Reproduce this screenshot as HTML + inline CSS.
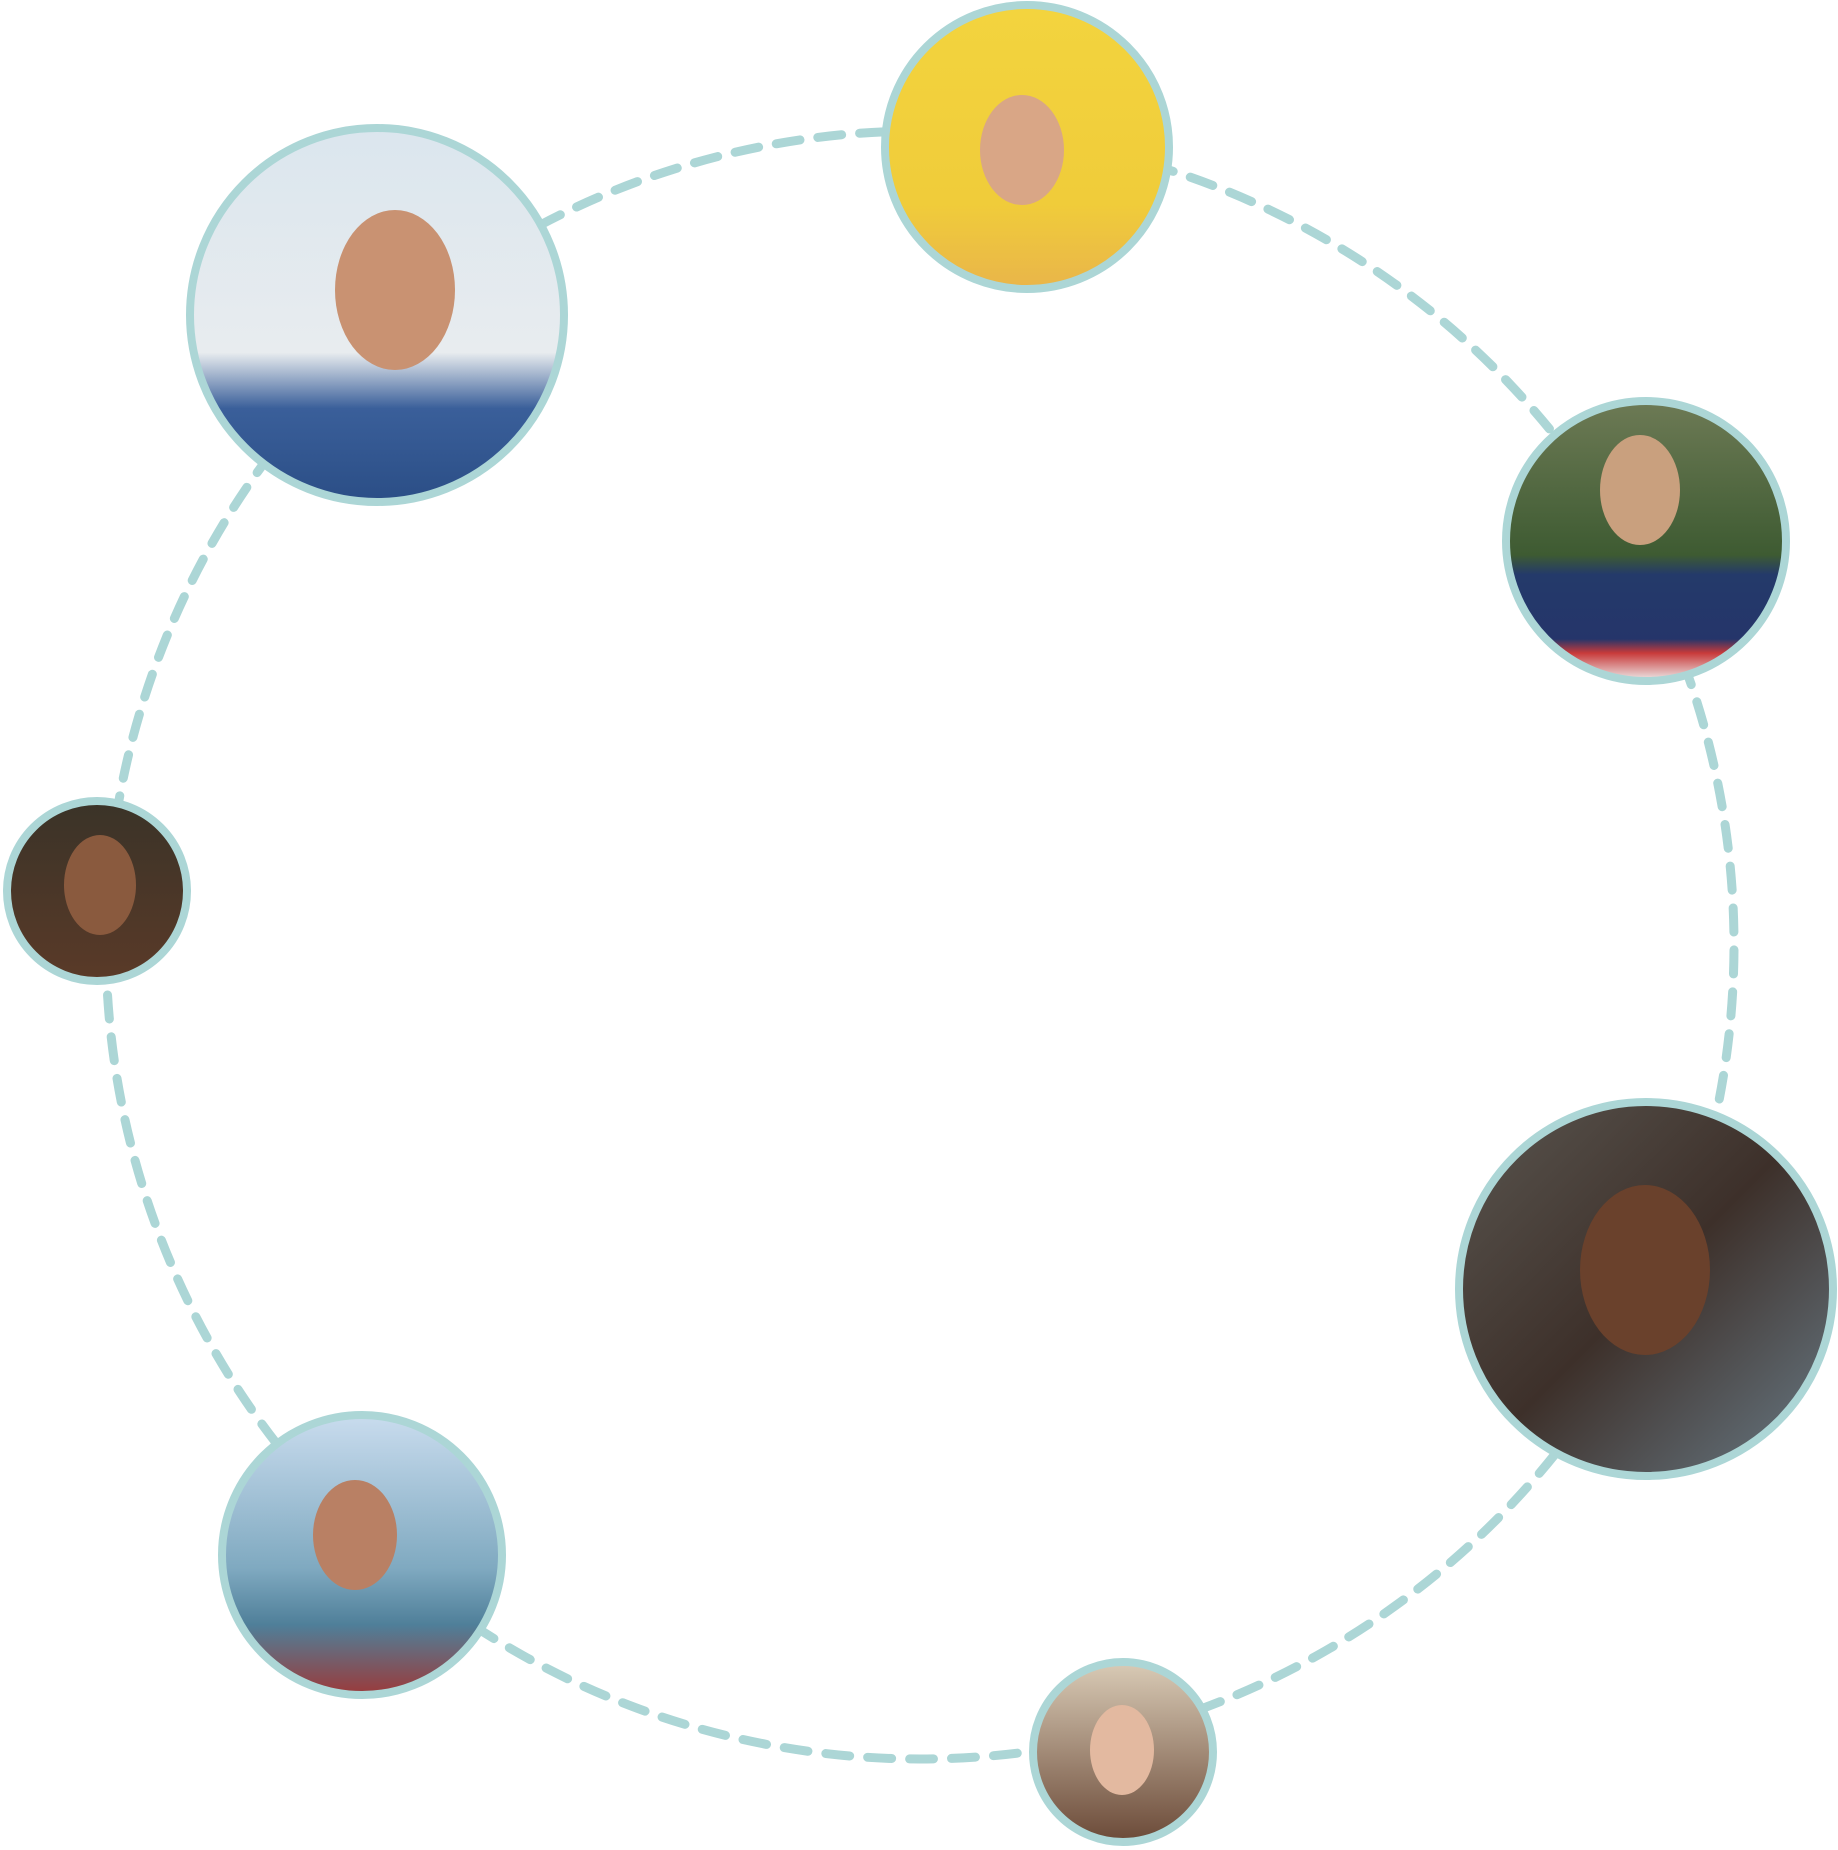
<!DOCTYPE html>
<html><head><meta charset="utf-8"><style>
html,body{margin:0;padding:0;background:#fff;width:1838px;height:1850px;overflow:hidden}
</style></head><body>
<svg width="1838" height="1850" viewBox="0 0 1838 1850" xmlns="http://www.w3.org/2000/svg">
<defs>
<linearGradient id="g1" x1="0" y1="0" x2="0" y2="1"><stop offset="0" stop-color="#f3d43e"/><stop offset="0.7" stop-color="#f0cc3a"/><stop offset="1" stop-color="#e9b54a"/></linearGradient>
<linearGradient id="g2" x1="0" y1="0" x2="0" y2="1"><stop offset="0" stop-color="#dbe6ee"/><stop offset="0.6" stop-color="#e8ecef"/><stop offset="0.75" stop-color="#3a5f9a"/><stop offset="1" stop-color="#2b4e86"/></linearGradient>
<linearGradient id="g3" x1="0" y1="0" x2="0" y2="1"><stop offset="0" stop-color="#6d7a55"/><stop offset="0.55" stop-color="#3e5b32"/><stop offset="0.62" stop-color="#243a6a"/><stop offset="0.85" stop-color="#25356a"/><stop offset="0.9" stop-color="#c83a3a"/><stop offset="1" stop-color="#eeeeee"/></linearGradient>
<linearGradient id="g4" x1="0" y1="0" x2="0" y2="1"><stop offset="0" stop-color="#3a3328"/><stop offset="1" stop-color="#5a3a28"/></linearGradient>
<linearGradient id="g5" x1="0" y1="0" x2="1" y2="1"><stop offset="0" stop-color="#5a5650"/><stop offset="0.5" stop-color="#3d302a"/><stop offset="1" stop-color="#6a7c88"/></linearGradient>
<linearGradient id="g6" x1="0" y1="0" x2="0" y2="1"><stop offset="0" stop-color="#c9dcee"/><stop offset="0.55" stop-color="#7fa9c0"/><stop offset="0.75" stop-color="#4f7f99"/><stop offset="1" stop-color="#9b3a3a"/></linearGradient>
<linearGradient id="g7" x1="0" y1="0" x2="0" y2="1"><stop offset="0" stop-color="#d9cbb6"/><stop offset="1" stop-color="#6b4a38"/></linearGradient>
</defs>
<path d="M 106 945 A 814 814 0 1 1 1734 945 A 814 814 0 1 1 106 945 Z" fill="none" stroke="#acd6d6" stroke-width="9" stroke-linecap="round" stroke-dasharray="24 18"/>
<g stroke="#acd6d6" stroke-width="8">
<circle cx="1027" cy="147" r="142" fill="url(#g1)"/>
<ellipse cx="1022" cy="150" rx="42" ry="55" fill="#d9a686" stroke="none"/>
<circle cx="377" cy="315" r="187" fill="url(#g2)"/>
<ellipse cx="395" cy="290" rx="60" ry="80" fill="#c99272" stroke="none"/>
<circle cx="1646" cy="541" r="140" fill="url(#g3)"/>
<ellipse cx="1640" cy="490" rx="40" ry="55" fill="#c9a07e" stroke="none"/>
<circle cx="97" cy="891" r="90" fill="url(#g4)"/>
<ellipse cx="100" cy="885" rx="36" ry="50" fill="#8a5a3e" stroke="none"/>
<circle cx="1646" cy="1289" r="187" fill="url(#g5)"/>
<ellipse cx="1645" cy="1270" rx="65" ry="85" fill="#6a412c" stroke="none"/>
<circle cx="362" cy="1555" r="140" fill="url(#g6)"/>
<ellipse cx="355" cy="1535" rx="42" ry="55" fill="#b98064" stroke="none"/>
<circle cx="1123" cy="1752" r="90" fill="url(#g7)"/>
<ellipse cx="1122" cy="1750" rx="32" ry="45" fill="#e3b9a0" stroke="none"/>
</g>
</svg>
</body></html>
